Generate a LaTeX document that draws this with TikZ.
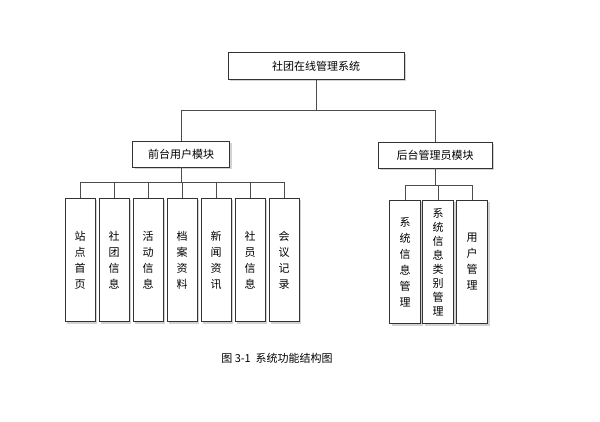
\documentclass[tikz,border=0pt]{standalone}
\usepackage{fontspec}
\newfontfamily\cjk{Noto Sans CJK SC}
\usetikzlibrary{positioning, shadows}
\begin{document}
\begin{tikzpicture}[x=1pt, y=-1pt,
        box/.style={rectangle, draw=black!80, fill=white, font=\cjk\fontsize{11}{13}\selectfont, align=center, inner sep=2pt, drop shadow={shadow xshift=2pt, shadow yshift=-2pt, fill=black!35}},
        leaf/.style={box, minimum width=30pt, minimum height=123pt, font=\cjk\fontsize{11}{16}\selectfont},
        link/.style={draw=black!70, line width=0.5pt}
    ]
    \useasboundingbox (0,0) rectangle (600,422);
    % Nodes
    \node[box, minimum width=176pt, minimum height=27pt] (sys) at (316,66) {社团在线管理系统};
    \node[box, minimum width=97pt, minimum height=26pt] (front) at (181,154) {前台用户模块};
    \node[box, minimum width=114pt, minimum height=26pt] (back) at (435,155) {后台管理员模块};
    \foreach \name/\txt [count=\i] in {f1/站\\点\\首\\页, f2/社\\团\\信\\息, f3/活\\动\\信\\息, f4/档\\案\\资\\料, f5/新\\闻\\资\\讯, f6/社\\员\\信\\息, f7/会\\议\\记\\录}
        \node[leaf] (\name) at ({80+34*(\i-1)},260) {\txt};
    \node[leaf, minimum width=31pt] (b1) at (405,262) {系\\统\\信\\息\\管\\理};
    \node[leaf, minimum width=31pt, font=\cjk\fontsize{11}{14}\selectfont] (b2) at (438,262) {系\\统\\信\\息\\类\\别\\管\\理};
    \node[leaf, minimum width=31pt] (b3) at (472,262) {用\\户\\管\\理};
    \node[font=\cjk\fontsize{11}{13}\selectfont] (cap) at (277,358) {图 3-1\ \ 系统功能结构图};
    % Connectors
    \coordinate (sysbus) at (316,110);
    \draw[link] (sys.south) -- (sysbus);
    \draw[link] (sysbus) -| (front.north);
    \draw[link] (sysbus) -| (back.north);
    \coordinate (fbus) at (181,182);
    \draw[link] (front.south) -- (fbus);
    \foreach \name in {f1,f2,f3,f4,f5,f6,f7}
        \draw[link] (fbus) -| (\name.north);
    \coordinate (bbus) at (435,185);
    \draw[link] (back.south) -- (bbus);
    \foreach \name in {b1,b2,b3}
        \draw[link] (bbus) -| (\name.north);
\end{tikzpicture}
\end{document}
